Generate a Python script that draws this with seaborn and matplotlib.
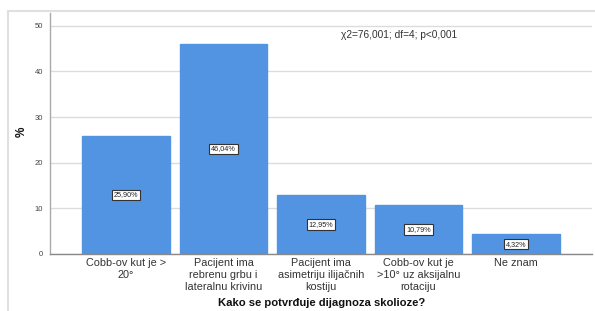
import matplotlib
matplotlib.use("Agg")
import matplotlib.pyplot as plt
import seaborn as sns
import pandas as pd
from matplotlib.lines import Line2D

categories = [
    "Cobb-ov kut je >\n20°",
    "Pacijent ima\nrebrenu grbu i\nlateralnu krivinu",
    "Pacijent ima\nasimetriju ilijačnih\nkostiju",
    "Cobb-ov kut je\n>10° uz aksijalnu\nrotaciju",
    "Ne znam",
]
values = [25.90, 46.04, 12.95, 10.79, 4.32]
value_labels = ["25,90%", "46,04%", "12,95%", "10,79%", "4,32%"]
y_ticks = [0, 10, 20, 30, 40, 50]
stat_text = "χ2=76,001; df=4; p<0,001"
x_title = "Kako se potvrđuje dijagnoza skolioze?"
y_title = "%"

sns.set_style("white")
plt.rcParams["font.family"] = ["Liberation Sans", "DejaVu Sans"]

df = pd.DataFrame({"cat": categories, "val": values})

fig = plt.figure(figsize=(5.95, 3.11), dpi=100)
ax = fig.add_axes([50 / 595, 1 - 254 / 311, (592 - 50) / 595, (254 - 13) / 311])

sns.barplot(data=df, x="cat", y="val", color="#5394E2", width=0.9,
            saturation=1, ax=ax, edgecolor="#5394E2", zorder=3)

for i, (v, lab) in enumerate(zip(values, value_labels)):
    ax.text(i, v / 2, lab, ha="center", va="center", fontsize=5.2, color="#222222",
            zorder=5,
            bbox=dict(boxstyle="square,pad=0.25", facecolor="white",
                      edgecolor="#333333", linewidth=0.8))

ax.set_ylim(0, 52.8)
ax.set_xlim(-0.78, 4.78)
ax.set_yticks(y_ticks)
ax.set_yticklabels([str(t) for t in y_ticks], fontsize=5.5, color="#444444")
ax.tick_params(axis="y", length=0, pad=5)
ax.tick_params(axis="x", length=0, pad=3, labelsize=7.8, labelcolor="#333333")
for lbl in ax.get_xticklabels():
    lbl.set_linespacing(1.25)
ax.yaxis.grid(True, color="#DCDCDC", linewidth=1.0, zorder=0)
ax.set_axisbelow(True)

for s in ["top", "right"]:
    ax.spines[s].set_visible(False)
ax.spines["left"].set_color("#AAAAAA")
ax.spines["left"].set_linewidth(1.0)
ax.spines["bottom"].set_color("#888888")
ax.spines["bottom"].set_linewidth(1.0)

ax.set_xlabel("")
ax.set_ylabel("")
fig.text(322 / 595, 1 - 303 / 311, x_title, ha="center", va="center",
         fontsize=8.1, fontweight="bold", color="#111111")
fig.text(22 / 595, 1 - 132 / 311, y_title, ha="center", va="center",
         fontsize=8.5, fontweight="bold", rotation=90, color="#111111")

ax.text(341 / 595, 1 - 35 / 311, stat_text, transform=fig.transFigure,
        ha="left", va="center", fontsize=7.3, color="#333333")

# outer frame (top & left edges)
fig.add_artist(Line2D([8 / 595, 1.0], [1 - 11 / 311, 1 - 11 / 311],
                      transform=fig.transFigure, color="#E0E0E0", linewidth=1.5))
fig.add_artist(Line2D([8 / 595, 8 / 595], [0, 1 - 11 / 311],
                      transform=fig.transFigure, color="#E0E0E0", linewidth=1.5))

fig.savefig("out.png", dpi=100)
